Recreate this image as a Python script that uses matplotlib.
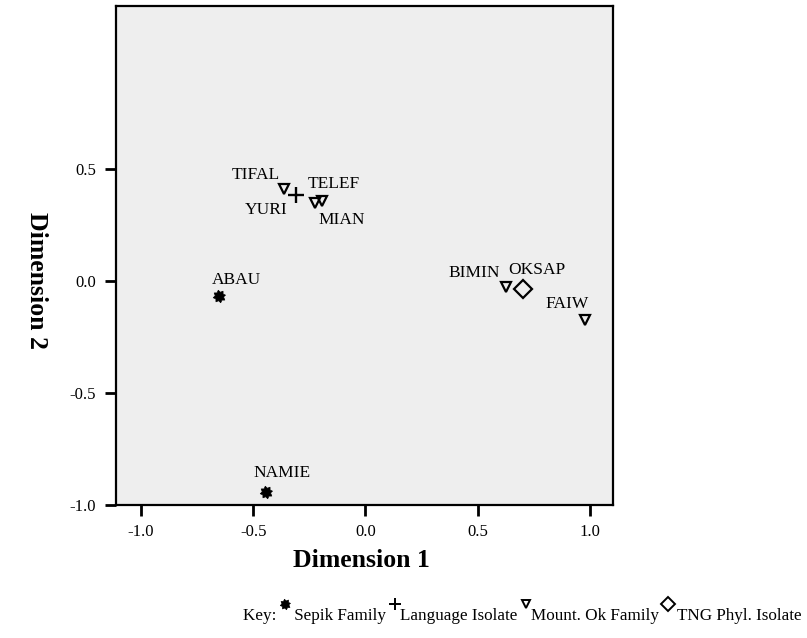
import matplotlib
matplotlib.use('Agg')
import numpy as np
import matplotlib.pyplot as plt
from matplotlib.lines import Line2D
from matplotlib.path import Path

plt.rcParams['font.family'] = ['Liberation Serif', 'DejaVu Serif']
plt.rcParams['axes.unicode_minus'] = False

# MDS coordinates of the languages
names = ['TIFAL', 'YURI', 'MIAN', 'TELEF', 'ABAU', 'NAMIE', 'BIMIN', 'OKSAP', 'FAIW']
dim1 = [-0.363, -0.310, -0.225, -0.194, -0.653, -0.443, 0.626, 0.702, 0.978]
dim2 = [0.411, 0.384, 0.348, 0.357, -0.067, -0.940, -0.027, -0.036, -0.174]
groups = ['Mount. Ok Family', 'Language Isolate', 'Mount. Ok Family', 'Mount. Ok Family',
          'Sepik Family', 'Sepik Family', 'Mount. Ok Family', 'TNG Phyl. Isolate', 'Mount. Ok Family']
key_order = ['Sepik Family', 'Language Isolate', 'Mount. Ok Family', 'TNG Phyl. Isolate']
xticks = [-1.0, -0.5, 0.0, 0.5, 1.0]
yticks = [-1.0, -0.5, 0.0, 0.5]

# label offsets in pixels (dx, dy) from the marker
offsets = {'TIFAL': (-28, 14), 'YURI': (-30, -15), 'MIAN': (27, -17), 'TELEF': (12, 17),
           'ABAU': (18, 16), 'NAMIE': (16, 19), 'BIMIN': (-32, 14), 'OKSAP': (14, 19),
           'FAIW': (-18, 16)}

# gear-like filled marker for the Sepik family
ang = np.linspace(0, 2 * np.pi, 17)[:-1] + np.pi / 16
rad = np.where(np.arange(16) % 2 == 0, 1.0, 0.68)
gear = Path(np.column_stack([rad * np.cos(ang), rad * np.sin(ang)]), closed=False)

styles = {
    'Sepik Family': dict(marker=gear, markersize=9, markerfacecolor='black', markeredgecolor='black', markeredgewidth=0.5),
    'Language Isolate': dict(marker='+', markersize=12, markeredgecolor='black', markeredgewidth=1.7),
    'Mount. Ok Family': dict(marker='v', markersize=7.5, markerfacecolor='none', markeredgecolor='black', markeredgewidth=1.6),
    'TNG Phyl. Isolate': dict(marker='D', markersize=9, markerfacecolor='none', markeredgecolor='black', markeredgewidth=1.6),
}

W, H = 807, 638
fig = plt.figure(figsize=(W / 100, H / 100), dpi=100)
ax = fig.add_axes([115.7 / W, 1 - 505 / H, (613 - 115.7) / W, (505 - 6) / H])
ax.set_facecolor('#eeeeee')

for g in key_order:
    xs = [x for x, gg in zip(dim1, groups) if gg == g]
    ys = [y for y, gg in zip(dim2, groups) if gg == g]
    ax.plot(xs, ys, linestyle='none', **styles[g])

for n, x, y in zip(names, dim1, dim2):
    ax.annotate(n, (x, y), xytext=offsets[n], textcoords='offset pixels',
                ha='center', va='center', fontsize=12.5)

ax.set_xlim(-1.113, 1.103)
ax.set_ylim(-1.0, 1.228)
ax.set_xticks(xticks)
ax.set_yticks(yticks)
ax.set_xticklabels(['%.1f' % t for t in xticks])
ax.set_yticklabels(['%.1f' % t for t in yticks])
ax.tick_params(direction='out', length=8, width=2, labelsize=12, pad=6)
for s in ax.spines.values():
    s.set_linewidth(1.6)

ax.set_xlabel('Dimension 1', fontsize=18.5, fontweight='bold', va='center')
ax.xaxis.set_label_coords(0.495, -0.112)
ax.set_ylabel('Dimension 2', fontsize=18.5, fontweight='bold', va='center', rotation=270)
ax.yaxis.set_label_coords(-0.16, 0.45)

# key line at the bottom
renderer = fig.canvas.get_renderer()
cur = 243.0
base = 620.0
items = [('t', 'Key: '), ('m', 'Sepik Family'), ('t', ' Sepik Family '),
         ('m', 'Language Isolate'), ('t', 'Language Isolate '),
         ('m', 'Mount. Ok Family'), ('t', 'Mount. Ok Family '),
         ('m', 'TNG Phyl. Isolate'), ('t', ' TNG Phyl. Isolate')]
legend_ms = {'Sepik Family': 7.5, 'Language Isolate': 9, 'Mount. Ok Family': 6, 'TNG Phyl. Isolate': 7.5}
for kind, val in items:
    if kind == 't':
        t = fig.text(cur / W, 1 - base / H, val, fontsize=12.3, va='baseline', ha='left')
        cur += t.get_window_extent(renderer).width
    else:
        st = dict(styles[val])
        st['markersize'] = legend_ms[val]
        st['markeredgewidth'] = min(st['markeredgewidth'], 1.4)
        w = 9.5
        fig.add_artist(Line2D([(cur + w / 2) / W], [1 - 604 / H], transform=fig.transFigure,
                              linestyle='none', **st))
        cur += w

fig.savefig('out.png', dpi=100)
